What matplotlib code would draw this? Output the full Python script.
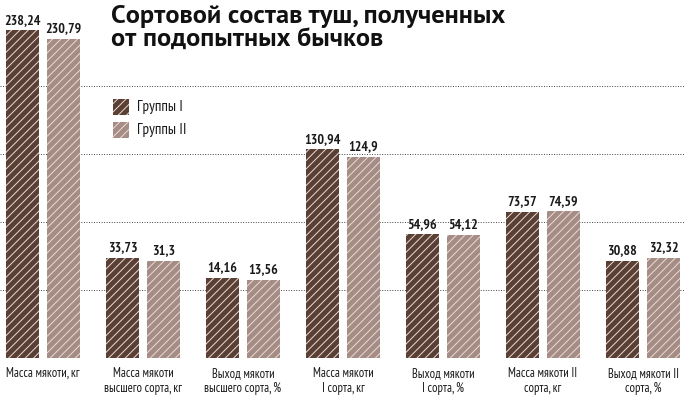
"""Сортовой состав туш, полученных от подопытных бычков."""

import matplotlib
matplotlib.use("Agg")
import matplotlib.pyplot as plt
import numpy as np
from matplotlib.font_manager import fontManager

categories = [
    "Масса мякоти, кг",
    "Масса мякоти\nвысшего сорта, кг",
    "Выход мякоти\nвысшего сорта, %",
    "Масса мякоти\nI сорта, кг",
    "Выход мякоти\nI сорта, %",
    "Масса мякоти II\nсорта, кг",
    "Выход мякоти II\nсорта, %",
]
series_names = ["Группы I", "Группы II"]
values_g1 = [238.24, 33.73, 14.16, 130.94, 54.96, 73.57, 30.88]
values_g2 = [230.79, 31.3, 13.56, 124.9, 54.12, 74.59, 32.32]
# the infographic is not drawn to a linear scale: bar heights as read off the
# picture, in units of its dotted grid lines
heights_g1 = [4.82, 1.47, 1.18, 3.07, 1.82, 2.15, 1.43]
heights_g2 = [4.69, 1.43, 1.15, 2.96, 1.81, 2.16, 1.47]

installed = {f.name for f in fontManager.ttflist}


def pick(*cands):
    for c in cands:
        if c in installed:
            return c
    return "DejaVu Sans"


NARROW = pick("PT Sans Narrow", "Fira Sans Extra Condensed", "Roboto Condensed",
              "Open Sans Condensed", "Liberation Sans Narrow", "Liberation Sans")
TITLE = pick("PT Sans", "Fira Sans Condensed", "Open Sans")

DARK = "#5a3f35"
LIGHT = "#a58c84"
HATCH = "#eadcd7"

plt.rcParams["hatch.linewidth"] = 0.7

fig = plt.figure(figsize=(6.84, 3.97), dpi=100)
ax = fig.add_axes([0, 1 - 358 / 397, 1, (358 - 18) / 397])

x = np.arange(len(categories))
w, off = 0.325, 0.205
for vals, hts, col, dx in [(values_g1, heights_g1, DARK, -off),
                           (values_g2, heights_g2, LIGHT, off)]:
    bars = ax.bar(x + dx, hts, w, color=col, edgecolor=HATCH, linewidth=0,
                  hatch="////", zorder=2)
    for b, v in zip(bars, vals):
        ax.annotate(f"{v:g}".replace(".", ","),
                    (b.get_x() + b.get_width() / 2, b.get_height()),
                    xytext=(0, 2.5), textcoords="offset points",
                    ha="center", va="bottom", fontsize=10, fontweight="bold",
                    family=NARROW, color="#1a1a1a")

for yy in range(5):
    ax.axhline(yy, color="#444444", lw=0.7, ls=(0, (1, 1.6)), zorder=1)

ax.set_xlim(-0.43, 6.41)
ax.set_ylim(0, 5)
ax.axis("off")

for xi, lab in zip(x, categories):
    ax.annotate(lab, (xi, 0), xytext=(0, -6.5), textcoords="offset points",
                ha="center", va="top", fontsize=9, family=NARROW,
                linespacing=1.2, color="#1a1a1a")

# title
fig.text(111 / 684, 1 - 5 / 397, "Сортовой состав туш, полученных\nот подопытных бычков",
         ha="left", va="top", fontsize=19, fontweight="bold", family=TITLE,
         linespacing=1.05, color="#111111")

# legend
for i, (name, col) in enumerate(zip(series_names, [DARK, LIGHT])):
    yc = 107 + 23 * i
    fig.patches.append(plt.Rectangle((113 / 684, 1 - (yc + 8) / 397), 16 / 684, 16 / 397,
                                     transform=fig.transFigure, facecolor=col,
                                     edgecolor=HATCH, linewidth=0, hatch="////"))
    fig.text(137 / 684, 1 - yc / 397, name, ha="left", va="center",
             fontsize=11, family=NARROW, color="#1a1a1a")

fig.savefig("out.png", dpi=100)
